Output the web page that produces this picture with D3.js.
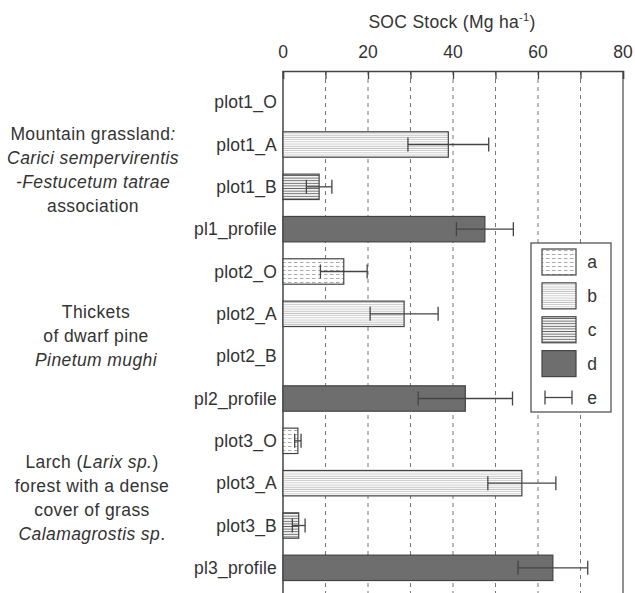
<!DOCTYPE html>
<html>
<head>
<meta charset="utf-8">
<script src="https://cdn.jsdelivr.net/npm/d3@7"></script>
<style>
  body { margin: 0; background: #fff; }
  text { font-family: "Liberation Sans", Arial, sans-serif; fill: #333; }
</style>
</head>
<body>
<svg id="chart" width="635" height="593"></svg>
<script>
"use strict";

// rows top to bottom
const rows = ["plot1_O", "plot1_A", "plot1_B", "pl1_profile",
              "plot2_O", "plot2_A", "plot2_B", "pl2_profile",
              "plot3_O", "plot3_A", "plot3_B", "pl3_profile"];
const kinds = ["a", "b", "c", "d", "a", "b", "c", "d", "a", "b", "c", "d"];
const values = [null, 38.9, 8.5, 47.5, 14.3, 28.5, null, 42.9, 3.5, 56.2, 3.7, 63.5];
const errors = [null, 9.5, 3.0, 6.7, 5.5, 8.0, null, 11.1, 0.75, 8.0, 1.5, 8.2];
const xTicks = [0, 20, 40, 60, 80];
const legendKeys = ["a", "b", "c", "d", "e"];

const svg = d3.select("#chart");
const x = d3.scaleLinear().domain([0, 80]).range([283, 623]);
const y = d3.scaleBand().domain(rows).range([81, 589])
            .paddingInner(0.4).paddingOuter(0.2);
const axisY = 71;
const bottom = 593;

// patterns
const defs = svg.append("defs");
const pa = defs.append("pattern").attr("id", "pat-a")
    .attr("patternUnits", "userSpaceOnUse").attr("width", 6).attr("height", 4);
pa.append("rect").attr("width", 6).attr("height", 4).attr("fill", "#fff");
pa.append("line").attr("x1", 0).attr("x2", 3.5).attr("y1", 2.5).attr("y2", 2.5)
  .attr("stroke", "#aaa").attr("stroke-width", 1);

const pb = defs.append("pattern").attr("id", "pat-b")
    .attr("patternUnits", "userSpaceOnUse").attr("width", 4).attr("height", 2.2);
pb.append("rect").attr("width", 4).attr("height", 2.2).attr("fill", "#fff");
pb.append("line").attr("x1", 0).attr("x2", 4).attr("y1", 1).attr("y2", 1)
  .attr("stroke", "#c4c4c4").attr("stroke-width", 0.9);

const pc = defs.append("pattern").attr("id", "pat-c")
    .attr("patternUnits", "userSpaceOnUse").attr("width", 4).attr("height", 2.6);
pc.append("rect").attr("width", 4).attr("height", 2.6).attr("fill", "#fff");
pc.append("line").attr("x1", 0).attr("x2", 4).attr("y1", 1.3).attr("y2", 1.3)
  .attr("stroke", "#666").attr("stroke-width", 1);

const fills = {a: "url(#pat-a)", b: "url(#pat-b)", c: "url(#pat-c)", d: "#6e6e6e"};

// dashed gridlines
svg.append("g").selectAll("line")
   .data(d3.range(10, 80, 10))
   .join("line")
   .attr("x1", d => x(d)).attr("x2", d => x(d))
   .attr("y1", axisY).attr("y2", bottom)
   .attr("stroke", "#777").attr("stroke-width", 1)
   .attr("stroke-dasharray", "4,4");

// right frame line
svg.append("line").attr("x1", x(80)).attr("x2", x(80))
   .attr("y1", axisY).attr("y2", bottom)
   .attr("stroke", "#555").attr("stroke-width", 1.3);

// top axis
const axis = d3.axisTop(x).tickValues(d3.range(0, 81, 10))
               .tickSize(-8).tickPadding(0).tickFormat("");
const ga = svg.append("g").attr("transform", "translate(0," + axisY + ")").call(axis);
ga.select(".domain").attr("stroke", "#444").attr("stroke-width", 1.5);
ga.selectAll(".tick line").attr("stroke", "#444").attr("stroke-width", 1.3);

svg.append("g").selectAll("text")
   .data(xTicks)
   .join("text")
   .attr("x", d => x(d)).attr("y", 58)
   .attr("text-anchor", "middle")
   .style("font-size", "17.5px")
   .text(d => d);

const title = svg.append("text").attr("x", 452).attr("y", 28)
   .attr("text-anchor", "middle").style("font-size", "17.5px")
   .style("letter-spacing", "0.3px");
title.append("tspan").text("SOC Stock (Mg ha");
title.append("tspan").attr("dy", -7).style("font-size", "11px").text("-1");
title.append("tspan").attr("dy", 7).text(")");

// left axis
svg.append("line").attr("x1", x(0)).attr("x2", x(0))
   .attr("y1", axisY).attr("y2", bottom)
   .attr("stroke", "#444").attr("stroke-width", 1.5);

// bars
const data = rows.map((r, i) => ({row: r, kind: kinds[i], val: values[i], err: errors[i]}))
                 .filter(d => d.val !== null);

svg.append("g").selectAll("rect")
   .data(data)
   .join("rect")
   .attr("x", x(0))
   .attr("y", d => y(d.row))
   .attr("width", d => x(d.val) - x(0))
   .attr("height", y.bandwidth())
   .attr("fill", d => fills[d.kind])
   .attr("stroke", "#444").attr("stroke-width", 1.2);

// error bars
const eb = svg.append("g").selectAll("g")
   .data(data)
   .join("g")
   .attr("stroke", "#444").attr("stroke-width", 1.3);
eb.append("line")
  .attr("x1", d => x(d.val - d.err)).attr("x2", d => x(d.val + d.err))
  .attr("y1", d => y(d.row) + y.bandwidth() / 2).attr("y2", d => y(d.row) + y.bandwidth() / 2);
eb.append("line")
  .attr("x1", d => x(d.val - d.err)).attr("x2", d => x(d.val - d.err))
  .attr("y1", d => y(d.row) + y.bandwidth() / 2 - 7).attr("y2", d => y(d.row) + y.bandwidth() / 2 + 7);
eb.append("line")
  .attr("x1", d => x(d.val + d.err)).attr("x2", d => x(d.val + d.err))
  .attr("y1", d => y(d.row) + y.bandwidth() / 2 - 7).attr("y2", d => y(d.row) + y.bandwidth() / 2 + 7);

// row labels
svg.append("g").selectAll("text")
   .data(rows)
   .join("text")
   .attr("x", 277)
   .attr("y", d => y(d) + y.bandwidth() / 2)
   .attr("dy", "0.35em")
   .attr("text-anchor", "end")
   .style("font-size", "17.5px")
   .style("letter-spacing", "0.2px")
   .text(d => d);

// group descriptions
const groups = [
  {cx: 93, y0: 140, lines: [[["Mountain grassland", false], [":", true]],
                            [["Carici sempervirentis", true]],
                            [["-Festucetum tatrae", true]],
                            [["association", false]]]},
  {cx: 96, y0: 318, lines: [[["Thickets", false]],
                            [["of dwarf pine", false]],
                            [["Pinetum mughi", true]]]},
  {cx: 92, y0: 468, lines: [[["Larch (", false], ["Larix sp.", true], [")", false]],
                            [["forest with a dense", false]],
                            [["cover of grass", false]],
                            [["Calamagrostis sp", true], [".", false]]]}
];
groups.forEach(g => {
  g.lines.forEach((parts, li) => {
    const t = svg.append("text").attr("x", g.cx).attr("y", g.y0 + li * 24)
       .attr("text-anchor", "middle").style("font-size", "17.5px")
       .style("letter-spacing", "0.4px");
    parts.forEach(p => {
      t.append("tspan").style("font-style", p[1] ? "italic" : "normal").text(p[0]);
    });
  });
});

// legend
const lg = svg.append("g");
lg.append("rect").attr("x", 531).attr("y", 243).attr("width", 80).attr("height", 169)
  .attr("fill", "#fff").attr("stroke", "#555").attr("stroke-width", 1.3);
const ly = d3.scalePoint().domain(legendKeys).range([262, 397.5]);
legendKeys.forEach(k => {
  if (k !== "e") {
    lg.append("rect").attr("x", 542).attr("y", ly(k) - 13).attr("width", 34).attr("height", 26)
      .attr("fill", fills[k]).attr("stroke", "#444").attr("stroke-width", 1.2);
  } else {
    const l = lg.append("g").attr("stroke", "#444").attr("stroke-width", 1.3);
    l.append("line").attr("x1", 545).attr("x2", 572).attr("y1", ly(k)).attr("y2", ly(k));
    l.append("line").attr("x1", 545).attr("x2", 545).attr("y1", ly(k) - 7).attr("y2", ly(k) + 7);
    l.append("line").attr("x1", 572).attr("x2", 572).attr("y1", ly(k) - 7).attr("y2", ly(k) + 7);
  }
  lg.append("text").attr("x", 592).attr("y", ly(k)).attr("dy", "0.35em")
    .attr("text-anchor", "middle").style("font-size", "17.5px").text(k);
});
</script>
</body>
</html>
